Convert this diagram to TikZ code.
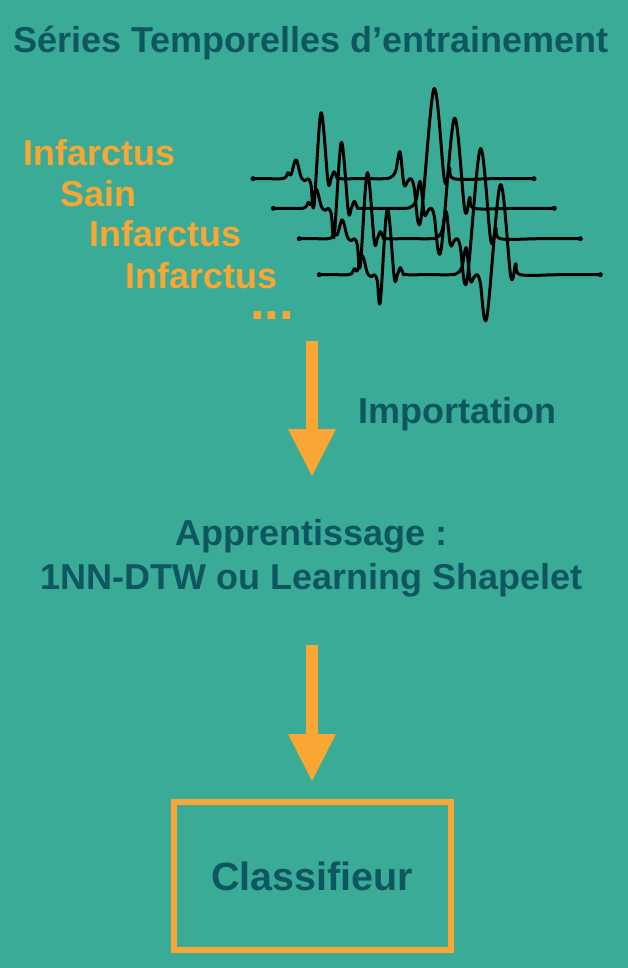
\documentclass[tikz,border=0pt]{standalone}
\usepackage{fontspec}
\setmainfont{Liberation Sans}
\usetikzlibrary{arrows.meta, positioning}

\definecolor{tealbg}{RGB}{58,171,150}
\definecolor{tealdark}{RGB}{15,87,96}
\definecolor{orangec}{RGB}{250,166,52}

\begin{document}
\begin{tikzpicture}[x=1pt, y=1pt,
    big/.style={font=\fontsize{36}{44}\selectfont\bfseries, inner sep=0pt},
    txtdark/.style={big, text=tealdark},
    classlbl/.style={big, text=orangec, anchor=base west},
    ecg/.style={line width=3pt, line join=round, black},
    bigarrow/.style={draw=orangec, line width=12pt, -{Triangle[length=47pt, width=48pt, line width=0pt]}}]

    \useasboundingbox (0,0) rectangle (628,-968);
    \fill[tealbg] (0,0) rectangle (628,-968);

    \node[txtdark, anchor=base] (titre) at (311,-53) {Séries Temporelles d’entrainement};

    % class labels
    \node[classlbl] (inf1) at (23,-166) {Infarctus};
    \node[classlbl] (sain) at (60.5,-207) {Sain};
    \node[classlbl] (inf2) at (89,-247) {Infarctus};
    \node[classlbl] (inf3) at (125,-288) {Infarctus};
    \node[classlbl, font=\fontsize{53}{53}\selectfont\bfseries, text height=8pt, text depth=0pt] (etc) at (250,-319) {...};

    % signals
    \foreach \sx/\sy in {253/178.7, 273.3/208.3, 299.3/238.7, 319.3/274.7} {
        \begin{scope}[shift={(\sx,-\sy)}]
            \draw[ecg] plot[smooth, tension=0.55] coordinates {(0,0) (15,0) (29,0) (33,2) (35,6) (38,4) (43,19) (48,2) (52,-2) (55,0) (58,-6) (61,-27) (68,66) (75,-3) (78,0) (81,7) (84,1) (86,0) (110,0) (132,0) (137,1) (140,3) (143,9) (147,27) (151,-6) (155,-2) (158,0) (161,-8) (167.5,-43) (181,90) (191.5,-2) (196.5,11) (201,0) (240,0) (281,0)};
            \fill (0,0) circle (2.5pt);
            \fill (281,0) circle (2.5pt);
        \end{scope}
    }

    \coordinate (imp start) at (312,-341);
    \coordinate (imp end) at (312,-476);
    \draw[bigarrow] (imp start) -- (imp end);
    \node[txtdark, anchor=base west] (import) at (358,-423) {Importation};

    \node[txtdark, align=center, anchor=north] (appr) at (311.5,-519.2) {Apprentissage :\\1NN-DTW ou Learning Shapelet};

    \node[txtdark, font=\fontsize{39.5}{44}\selectfont\bfseries, draw=orangec, line width=6pt, minimum width=277pt, minimum height=148pt] (classif) at (312,-876) {Classifieur};

    \coordinate (appr end) at (312,-645);
    \draw[bigarrow, shorten >=18pt] (appr end) -- (classif.north);

\end{tikzpicture}
\end{document}
